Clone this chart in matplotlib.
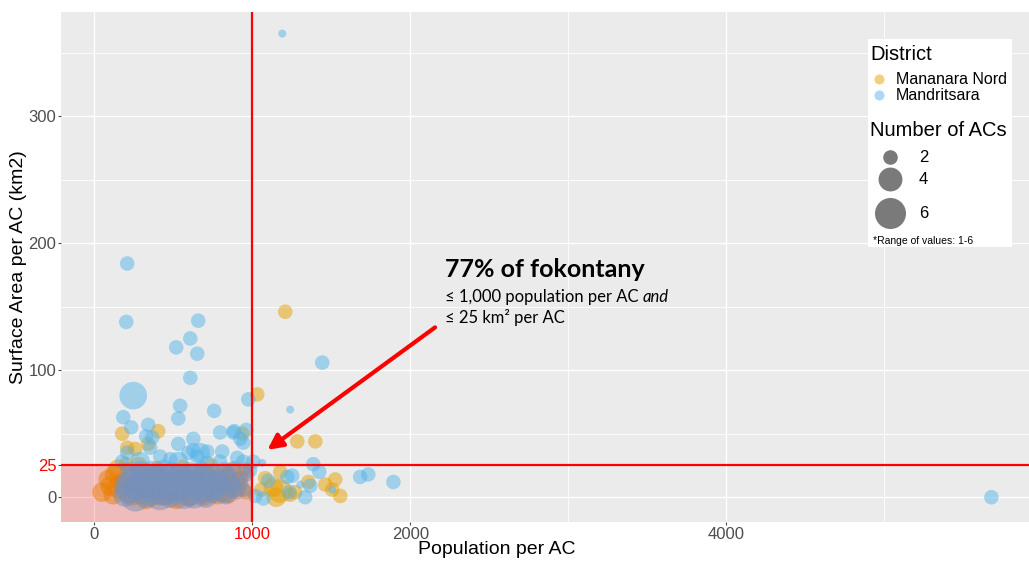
import numpy as np
import matplotlib
matplotlib.use("Agg")
import matplotlib.pyplot as plt

# ---- data: (population per AC, surface area per AC km2, number of ACs) ----
# Mananara Nord (orange)
mn_pop = [50, 89, 120, 150, 160, 130, 240, 330, 420, 520, 610, 700, 780, 850, 900, 930, 870,
          200, 280, 400, 560, 740, 950, 180, 100, 960, 300, 460, 640, 820, 380, 560, 690,
          177, 405, 342, 260, 209, 937, 1032, 1209, 1285, 1399,
          1177, 1082, 1133, 1177, 1240, 1272, 1355, 1462, 1525, 1557, 1058, 1152, 1506]
mn_area = [4, 14, 2, 22, 8, 18, 1, 0, 1, 0, 1, 1, 2, 3, 8, 15, 20,
           26, 24, 23, 24, 25, 22, 12, 9, 4, 10, 6, 12, 16, 18, 14, 20,
           50, 52, 42, 38, 39, 50, 81, 146, 44, 44,
           20, 15, 8, 5, 2, 4, 12, 10, 14, 1, 6, 0, 6]
mn_n = [3, 3, 3, 3, 4, 3, 3, 4, 3, 4, 3, 3, 3, 3, 3, 2, 3,
        2, 3, 2, 2, 2, 2, 3, 3, 2, 4, 4, 3, 3, 3, 3, 3,
        2, 2, 2, 2, 2, 2, 2, 2, 2, 2,
        2, 2, 3, 4, 2, 2, 2, 2, 2, 2, 2, 3, 2]

# Mandritsara (blue)
md_pop = [1190, 209, 203, 658, 519, 608, 652, 1443, 608, 247, 544, 1240, 759, 975, 184,
          342, 234, 532, 797, 886, 962, 943, 367, 627, 329, 354, 532, 627, 652, 715, 810,
          880, 924, 797, 905, 943, 1006, 1063, 177, 291, 418, 481, 532, 595, 671, 715, 209,
          1386, 1424, 1222, 1253, 1101, 1335, 1019, 1070, 1234, 1304, 1367, 1683, 1734, 1893,
          5677, 1506,
          195, 262, 338, 415, 478, 566, 633, 705, 757, 833, 905,
          222, 297, 384, 446, 527, 598, 684, 738, 815, 868, 948,
          205, 276, 356, 427, 503, 583, 646, 724, 786, 862, 928,
          232, 315, 388, 474, 538, 624, 696, 774, 843, 912,
          254, 327, 413, 486, 563, 637, 713, 782, 852, 964,
          212, 293, 366, 444, 517, 603, 678, 752, 823, 887, 985]
md_area = [365, 184, 138, 139, 118, 125, 113, 106, 94, 80, 72, 69, 68, 77, 63,
           57, 55, 62, 51, 52, 53, 43, 47, 46, 48, 39, 42, 37, 32, 36, 36,
           51, 46, 28, 31, 28, 28, 27, 28, 28, 32, 30, 28, 35, 35, 27, 35,
           26, 20, 16, 17, 13, 0, 1, -1, 4, 10, 9, 16, 18, 12,
           0, 6,
           2, 1, 3, 2, 1, 3, 2, 1, 3, 2, 4,
           6, 7, 5, 6, 7, 5, 6, 7, 5, 7, 6,
           10, 9, 11, 10, 9, 11, 10, 9, 11, 10, 11,
           14, 13, 15, 14, 13, 15, 14, 13, 15, 14,
           18, 17, 19, 18, 17, 19, 18, 17, 19, 18,
           22, 21, 23, 22, 21, 22, 23, 21, 22, 23, 21]
md_n = [1, 2, 2, 2, 2, 2, 2, 2, 2, 5, 2, 1, 2, 2, 2,
        2, 2, 2, 2, 2, 2, 2, 2, 2, 2, 2, 2, 2, 2, 2, 2,
        2, 2, 2, 2, 2, 2, 1, 2, 3, 2, 2, 3, 2, 3, 2, 2,
        2, 2, 2, 2, 2, 2, 2, 2, 2, 1, 2, 2, 2, 2,
        2, 1,
        4, 6, 5, 6, 4, 6, 5, 4, 3, 3, 2,
        5, 6, 5, 6, 5, 6, 5, 4, 4, 3, 2,
        4, 5, 6, 5, 6, 5, 6, 5, 4, 3, 2,
        4, 5, 4, 5, 4, 5, 4, 3, 3, 2,
        3, 4, 3, 4, 3, 3, 3, 2, 2, 2,
        2, 3, 2, 3, 2, 2, 2, 2, 2, 2, 2]

x_ticks = [0, 1000, 2000, 4000]
y_ticks = [0, 25, 100, 200, 300]

ORANGE = "#E69F00"
BLUE = "#56B4E9"
GREY_BG = "#EBEBEB"


def size_pts(n):
    # diameter in pixels grows with sqrt of the number of ACs (ggplot area scale)
    d = -7.9 + 15.9 * np.sqrt(np.asarray(n, dtype=float))
    return (d * 0.72) ** 2


fig = plt.figure(figsize=(10.29, 5.61), dpi=100)
ax = fig.add_axes([61 / 1029, 1 - 522 / 561, 968 / 1029, 510 / 561])
ax.set_facecolor(GREY_BG)
ax.set_xlim(-210, 5915)
ax.set_ylim(-19.5, 382)

for gx in [0, 2000, 3000, 4000, 5000]:
    ax.axvline(gx, color="white", lw=1.0 if gx in (0, 2000, 4000) else 0.6, zorder=0)
for gy in [0, 50, 100, 150, 200, 250, 300, 350]:
    ax.axhline(gy, color="white", lw=1.0 if gy in (0, 100, 200, 300) else 0.6, zorder=0)

ax.scatter(mn_pop, mn_area, s=size_pts(mn_n), color=ORANGE, alpha=0.5, linewidths=0, zorder=2)
ax.scatter(md_pop, md_area, s=size_pts(md_n), color=BLUE, alpha=0.5, linewidths=0, zorder=3)

# shaded quadrant and thresholds
ax.axvspan(-210, 1000, ymin=0, ymax=(25 + 19.5) / (382 + 19.5), color="red", alpha=0.2,
           lw=0, zorder=4)
ax.axvline(1000, color="red", lw=1.6, zorder=5)
ax.axhline(25, color="red", lw=1.6, zorder=5)

for s in ax.spines.values():
    s.set_visible(False)
ax.set_xticks(x_ticks)
ax.set_yticks(y_ticks)
ax.set_xticklabels([str(v) for v in x_ticks], fontsize=12, family="Liberation Sans")
ax.set_yticklabels([str(v) for v in y_ticks], fontsize=12, family="Liberation Sans")
ax.tick_params(colors="#4D4D4D", length=2.2, width=0.8, labelcolor="#4D4D4D", pad=1.2)
ax.get_xticklabels()[1].set_color("red")
ax.get_yticklabels()[1].set_color("red")

ax.set_xlabel("Population per AC", fontsize=14, family="Liberation Sans")
ax.xaxis.label.set_va("center")
ax.xaxis.set_label_coords((497 - 61) / 968, -0.053)
ax.set_ylabel("Surface Area per AC (km2)", fontsize=14, family="Liberation Sans")
ax.yaxis.set_label_coords(-0.0355, 0.5)

# arrow and annotation
ax.annotate("", xy=(1082, 36), xytext=(2171, 135),
            arrowprops=dict(arrowstyle="-|>,head_length=0.9,head_width=0.45",
                            color="red", lw=3), zorder=6)
fig.text(445 / 1029, 1 - 277 / 561, "77% of fokontany", fontsize=18, fontweight="bold",
         family="Lato", va="baseline")
t2 = fig.text(445 / 1029, 1 - 302 / 561, "\u2264 1,000 population per AC ", fontsize=12,
              family=["Lato", "DejaVu Sans"], va="baseline")
ax.annotate("and", xy=(1, 0), xycoords=t2, fontsize=12, family="Lato", style="italic",
            va="bottom", ha="left", annotation_clip=False)
fig.text(445 / 1029, 1 - 323 / 561, "\u2264 25 km\u00b2 per AC", fontsize=12,
         family=["Lato", "DejaVu Sans"], va="baseline")

# legend drawn in its own box (pixel coordinates)
lg = fig.add_axes([868 / 1029, 1 - 247 / 561, 144 / 1029, 208 / 561])
lg.set_xlim(868, 1012)
lg.set_ylim(247, 39)
lg.set_facecolor("white")
lg.set_xticks([])
lg.set_yticks([])
for s in lg.spines.values():
    s.set_visible(False)
lf = "Liberation Sans"
lg.text(870, 54, "District", fontsize=14.5, family=lf, va="center")
lg.scatter([879], [79], s=(10 * 0.72) ** 2, color=ORANGE, alpha=0.5, lw=0)
lg.scatter([879], [95], s=(10 * 0.72) ** 2, color=BLUE, alpha=0.5, lw=0)
lg.text(896, 79, "Mananara Nord", fontsize=11.5, family=lf, va="center")
lg.text(896, 95, "Mandritsara", fontsize=11.5, family=lf, va="center")
lg.text(870, 131, "Number of ACs", fontsize=14.5, family=lf, va="center")
for n_lab, yy in zip([2, 4, 6], [157, 179, 213]):
    lg.scatter([890], [yy], s=size_pts(n_lab), color="#7A7A7A", lw=0)
    lg.text(919, yy, str(n_lab), fontsize=12, family=lf, va="center")
lg.text(873, 241, "*Range of values: 1-6", fontsize=7.5, family=lf, va="center")

fig.savefig("out.png", dpi=100)
